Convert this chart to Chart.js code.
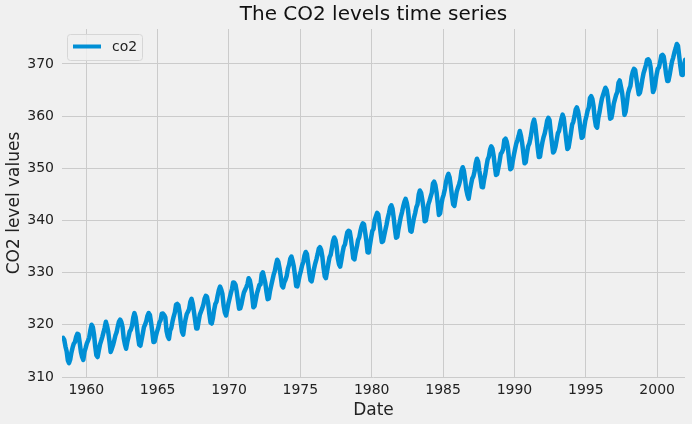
<!DOCTYPE html>
<html>
<head>
<meta charset="utf-8">
<script src="https://cdn.jsdelivr.net/npm/chart.js@4"></script>
<style>
  html, body { margin: 0; padding: 0; background: #f0f0f0; }
  #wrap { width: 692px; height: 424px; }
</style>
</head>
<body>
<div id="wrap"><canvas id="myChart" width="692" height="424"></canvas></div>
<script>
(function(){
  'use strict';

  // monthly co2 (ppm), first value = March 1958
  const startYear = 1958;
  const startMonth = 3;

  const co2_1950s = [
    315.71, 317.45, 317.50, 317.10, 315.86, 314.93, 313.20, 312.66, 313.33, 314.67,
    315.62, 316.38, 316.71, 317.72, 318.29, 318.15, 316.54, 314.80, 313.84, 313.26, 314.80, 315.58
  ];
  const co2_1960s = [
    316.43, 316.97, 317.58, 319.02, 320.03, 319.59, 318.18, 315.91, 314.16, 313.83, 315.00, 316.19,
    316.93, 317.70, 318.54, 319.48, 320.58, 319.77, 318.57, 316.79, 314.80, 315.38, 316.10, 317.01,
    317.94, 318.56, 319.68, 320.63, 321.01, 320.55, 319.58, 317.40, 316.26, 315.42, 316.69, 317.69,
    318.74, 319.08, 319.86, 321.39, 322.25, 321.47, 319.74, 317.77, 316.21, 315.99, 317.12, 318.31,
    319.57, 320.07, 320.73, 321.77, 322.25, 321.89, 320.44, 318.70, 316.70, 316.79, 317.79, 318.71,
    319.44, 320.44, 320.89, 322.13, 322.16, 321.87, 321.39, 318.81, 317.81, 317.30, 318.87, 319.42,
    320.62, 321.59, 322.39, 323.87, 324.01, 323.75, 322.39, 320.37, 318.64, 318.10, 319.79, 321.08,
    322.07, 322.50, 323.04, 324.42, 325.00, 324.09, 322.55, 320.92, 319.31, 319.31, 320.72, 321.96,
    322.57, 323.15, 323.89, 325.02, 325.57, 325.36, 324.14, 322.03, 320.41, 320.25, 321.31, 322.84,
    324.00, 324.42, 325.64, 326.66, 327.34, 326.76, 325.88, 323.67, 322.38, 321.78, 322.85, 324.11
  ];
  const co2_1970s = [
    325.03, 325.99, 326.87, 328.13, 328.07, 327.66, 326.35, 324.69, 323.10, 323.16, 323.98, 325.13,
    326.17, 326.68, 327.18, 327.78, 328.92, 328.57, 327.34, 325.46, 323.36, 323.57, 324.80, 326.01,
    326.77, 327.63, 327.75, 329.72, 330.07, 329.09, 328.05, 326.32, 324.93, 325.06, 326.50, 327.55,
    328.54, 329.56, 330.30, 331.50, 332.48, 332.07, 330.87, 329.31, 327.51, 327.18, 328.16, 328.64,
    329.35, 330.71, 331.48, 332.65, 333.09, 332.25, 331.18, 329.40, 327.43, 327.37, 328.46, 329.57,
    330.40, 331.40, 332.04, 333.31, 333.96, 333.59, 331.91, 330.06, 328.56, 328.34, 329.49, 330.76,
    331.75, 332.56, 333.50, 334.58, 334.87, 334.34, 333.05, 330.94, 329.30, 328.94, 330.31, 331.68,
    332.93, 333.42, 334.70, 336.07, 336.74, 336.27, 334.93, 332.75, 331.58, 331.16, 332.40, 333.85,
    334.97, 335.39, 336.64, 337.76, 338.01, 337.89, 336.54, 334.68, 332.76, 332.54, 333.92, 334.95,
    336.23, 336.76, 337.96, 338.89, 339.47, 339.29, 337.73, 336.09, 333.91, 333.86, 335.29, 336.73
  ];
  const co2_1980s = [
    338.01, 338.36, 340.08, 340.77, 341.46, 341.17, 339.56, 337.60, 335.88, 336.01, 337.10, 338.21,
    339.23, 340.47, 341.38, 342.51, 342.91, 342.25, 340.49, 338.43, 336.69, 336.85, 338.36, 339.61,
    340.75, 341.61, 342.70, 343.56, 344.13, 343.35, 342.06, 339.82, 337.97, 337.86, 339.26, 340.49,
    341.38, 342.52, 343.10, 344.94, 345.75, 345.32, 343.99, 342.39, 339.86, 339.99, 341.16, 342.99,
    343.70, 344.51, 345.28, 347.08, 347.43, 346.79, 345.40, 343.28, 341.07, 341.35, 342.98, 344.22,
    344.97, 345.99, 347.42, 348.35, 348.93, 348.25, 346.56, 344.67, 343.09, 342.80, 344.24, 345.56,
    346.29, 346.96, 347.86, 349.55, 350.21, 349.54, 347.94, 345.91, 344.86, 344.17, 345.66, 346.90,
    348.02, 348.47, 349.42, 350.99, 351.84, 351.25, 349.52, 348.10, 346.44, 346.36, 347.81, 348.96,
    350.43, 351.72, 352.22, 353.59, 354.22, 353.79, 352.39, 350.44, 348.72, 348.88, 350.07, 351.34,
    352.76, 353.07, 353.68, 355.42, 355.67, 355.13, 353.90, 351.67, 349.80, 349.99, 351.30, 352.53
  ];
  const co2_1990s = [
    353.66, 354.70, 355.39, 356.20, 357.16, 356.22, 354.82, 352.91, 350.96, 351.18, 352.83, 354.21,
    354.72, 355.75, 357.16, 358.60, 359.34, 358.24, 356.17, 354.03, 352.16, 352.21, 353.75, 354.99,
    355.98, 356.72, 357.81, 359.15, 359.66, 359.25, 357.03, 355.00, 353.01, 353.31, 354.16, 355.40,
    356.70, 357.16, 358.38, 359.46, 360.28, 359.60, 357.57, 355.52, 353.70, 353.98, 355.33, 356.80,
    358.36, 358.91, 359.97, 361.26, 361.68, 360.95, 359.55, 357.49, 355.84, 356.00, 357.59, 359.05,
    359.98, 361.03, 361.66, 363.48, 363.82, 363.30, 361.94, 359.50, 358.11, 357.80, 359.61, 360.74,
    362.09, 363.29, 364.06, 364.76, 365.45, 365.01, 363.70, 361.54, 359.51, 359.65, 360.80, 362.38,
    363.23, 364.06, 364.61, 366.40, 366.84, 365.68, 364.52, 362.57, 360.24, 360.83, 362.49, 364.34,
    365.17, 365.78, 367.54, 368.52, 369.05, 368.81, 367.29, 365.63, 364.21, 364.47, 365.56, 366.99,
    368.18, 368.94, 369.75, 370.76, 370.89, 370.56, 369.38, 366.97, 364.61, 365.15, 366.45, 367.93
  ];
  const co2_2000s = [
    369.08, 369.32, 370.40, 371.58, 371.76, 371.42, 369.91, 368.05, 366.74, 366.75, 367.91, 369.25,
    370.50, 371.22, 372.21, 372.97, 373.83, 373.49, 371.59, 369.58, 367.93, 367.90, 369.58, 370.79
  ];

  const xTicks = [1960, 1965, 1970, 1975, 1980, 1985, 1990, 1995, 2000];
  const yTicks = [310, 320, 330, 340, 350, 360, 370];

  const FONT = "'DejaVu Sans', sans-serif";
  const LINE = '#008fd5';

  function montarSerie(){
    const valores = [].concat(co2_1950s, co2_1960s, co2_1970s, co2_1980s, co2_1990s, co2_2000s);
    return valores.map((v, i) => {
      const m = startMonth - 1 + i;
      const ano = startYear + Math.floor(m / 12) + ((m % 12) + 0.5) / 12;
      return { x: ano, y: v };
    });
  }

  // legenda desenhada como no matplotlib (caixa arredondada)
  const legendaBox = {
    id: 'legendaBox',
    afterDatasetsDraw(chart){
      const ctx = chart.ctx;
      const a = chart.chartArea;
      const x = a.left + 5, y = a.top + 5, w = 75, h = 26;
      ctx.save();
      ctx.fillStyle = 'rgba(240,240,240,0.8)';
      ctx.strokeStyle = '#d6d6d6';
      ctx.lineWidth = 1;
      ctx.beginPath();
      ctx.roundRect(x + 0.5, y + 0.5, w, h, 3);
      ctx.fill();
      ctx.stroke();
      ctx.strokeStyle = LINE;
      ctx.lineWidth = 4;
      ctx.beginPath();
      ctx.moveTo(x + 6, y + 12.5);
      ctx.lineTo(x + 34, y + 12.5);
      ctx.stroke();
      ctx.fillStyle = '#222';
      ctx.font = '14px ' + FONT;
      ctx.textBaseline = 'middle';
      ctx.fillText(chart.data.datasets[0].label, x + 45, y + 13.5);
      ctx.restore();
    }
  };

  const tituloTopo = {
    id: 'tituloTopo',
    afterDraw(chart){
      const ctx = chart.ctx;
      const a = chart.chartArea;
      ctx.save();
      ctx.fillStyle = '#111';
      ctx.font = '20px ' + FONT;
      ctx.textAlign = 'center';
      ctx.textBaseline = 'middle';
      ctx.fillText('The CO2 levels time series', (a.left + a.right) / 2, 15);
      ctx.restore();
    }
  };

  function init(){
    const canvas = document.getElementById('myChart');
    const ctx = canvas.getContext('2d');
    new Chart(ctx, {
      type: 'line',
      data: {
        datasets: [{
          label: 'co2',
          data: montarSerie(),
          borderColor: LINE,
          backgroundColor: LINE,
          borderWidth: 4.5,
          pointRadius: 0,
          tension: 0,
          borderJoinStyle: 'round',
          borderCapStyle: 'round'
        }]
      },
      options: {
        responsive: false,
        animation: false,
        layout: { padding: { top: 29, right: 7, left: 0, bottom: 0 } },
        plugins: {
          legend: { display: false },
          tooltip: { enabled: false },
          title: { display: false }
        },
        scales: {
          x: {
            type: 'linear',
            min: 1958.3,
            max: 2001.95,
            afterFit(s){ s.height = 47; },
            afterBuildTicks(s){ s.ticks = xTicks.map(v => ({ value: v })); },
            border: { display: false },
            grid: { color: '#cbcbcb', lineWidth: 1, drawTicks: false },
            ticks: {
              includeBounds: false,
              padding: 5,
              color: '#222',
              font: { family: FONT, size: 14 },
              maxRotation: 0,
              callback: v => String(v)
            },
            title: {
              display: true,
              text: 'Date',
              color: '#222',
              font: { family: FONT, size: 17 },
              padding: { top: 0, bottom: 3 }
            }
          },
          y: {
            type: 'linear',
            min: 310,
            max: 376.7,
            afterFit(s){ s.width = 62; },
            afterBuildTicks(s){ s.ticks = yTicks.map(v => ({ value: v })); },
            border: { display: false },
            grid: { color: '#cbcbcb', lineWidth: 1, drawTicks: false },
            ticks: {
              includeBounds: false,
              padding: 8,
              color: '#222',
              font: { family: FONT, size: 14 },
              callback: v => String(v)
            },
            title: {
              display: true,
              text: 'CO2 level values',
              color: '#222',
              font: { family: FONT, size: 17 },
              padding: { top: 4, bottom: 0 }
            }
          }
        }
      },
      plugins: [legendaBox, tituloTopo]
    });
  }

  if (document.readyState === 'loading'){
    document.addEventListener('DOMContentLoaded', init);
  } else {
    init();
  }
})();
</script>
</body>
</html>
